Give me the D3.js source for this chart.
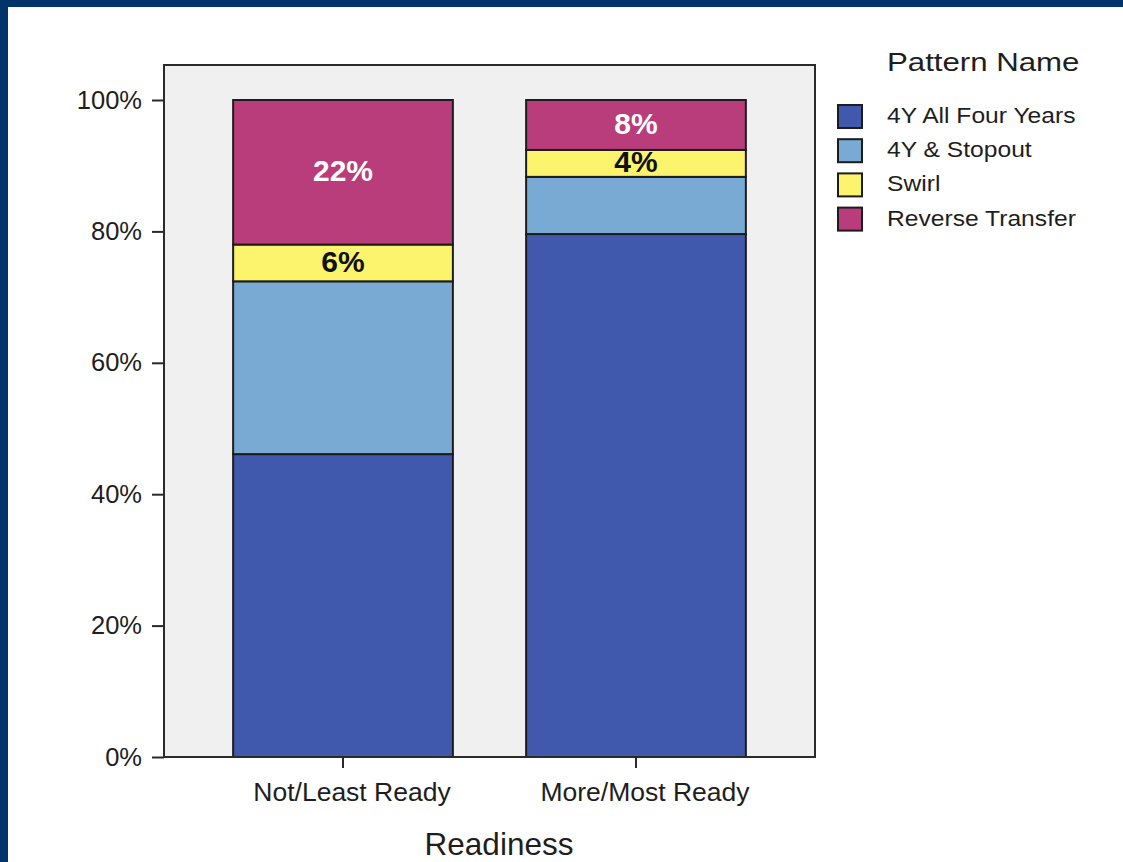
<!DOCTYPE html>
<html>
<head>
<meta charset="utf-8">
<script src="https://cdn.jsdelivr.net/npm/d3@7"></script>
<style>
  html, body { margin: 0; padding: 0; background: #ffffff; }
  svg { display: block; }
  text { font-family: "Liberation Sans", Arial, Helvetica, sans-serif; }
</style>
</head>
<body>
<svg id="chart" width="1123" height="862"></svg>
<script>
// Readiness groups on the x axis
const categories = ["Not/Least Ready", "More/Most Ready"];
// Enrollment patterns, stacked bottom to top
const seriesNames = ["4Y All Four Years", "4Y & Stopout", "Swirl", "Reverse Transfer"];
// Share of students in each pattern (percent) per readiness group
const allFourYears   = [46.1, 79.6];
const stopout        = [26.3, 8.7];
const swirl          = [5.6, 4.1];
const reverseTransfer = [22.0, 7.6];
// Patterns that carry a value label inside the bar
const labelledSeries = ["Swirl", "Reverse Transfer"];
const yTicks = [0, 0.2, 0.4, 0.6, 0.8, 1.0];
const xTitle = "Readiness";
const legendTitle = "Pattern Name";

const colors = {
  "4Y All Four Years": "#4159ad",
  "4Y & Stopout": "#79aad4",
  "Swirl": "#fbf46c",
  "Reverse Transfer": "#b93d7b"
};
const labelColors = { "Swirl": "#111111", "Reverse Transfer": "#ffffff" };

const seriesValues = [allFourYears, stopout, swirl, reverseTransfer];
const rows = categories.map((c, i) => {
  const r = { category: c };
  seriesNames.forEach((s, k) => { r[s] = seriesValues[k][i] / 100; });
  return r;
});
const stacked = d3.stack().keys(seriesNames)(rows);

const svg = d3.select("#chart");

// page frame: dark band along the top and left edges
svg.append("rect").attr("x", 0).attr("y", 0).attr("width", 1123).attr("height", 7).attr("fill", "#00346a");
svg.append("rect").attr("x", 0).attr("y", 0).attr("width", 8).attr("height", 862).attr("fill", "#00346a");

const plot = { left: 164, right: 815, top: 65, bottom: 757 };

const x = d3.scaleBand()
  .domain(categories)
  .range([plot.left, plot.right])
  .paddingInner(0.25)
  .paddingOuter(0.236);

const y = d3.scaleLinear()
  .domain([0, 1])
  .range([plot.bottom, 100]);

// plot background
svg.append("rect")
  .attr("x", plot.left).attr("y", plot.top)
  .attr("width", plot.right - plot.left).attr("height", plot.bottom - plot.top)
  .attr("fill", "#f0f0f0");

const defs = svg.append("defs");

// stacked segments
const layers = svg.append("g").selectAll("g")
  .data(stacked)
  .join("g")
  .attr("fill", d => colors[d.key]);

layers.selectAll("rect")
  .data(d => d.map(p => ({ key: d.key, p })))
  .join("rect")
  .attr("x", d => x(d.p.data.category))
  .attr("y", d => y(d.p[1]))
  .attr("width", x.bandwidth())
  .attr("height", d => y(d.p[0]) - y(d.p[1]))
  .attr("stroke", "#1c1c1c")
  .attr("stroke-width", 2);

// value labels, each kept inside its own segment
const fmt = d3.format(".0%");
const labelData = [];
stacked.filter(s => labelledSeries.includes(s.key)).forEach(s => {
  s.forEach((p, i) => labelData.push({ key: s.key, p, id: "seg-" + seriesNames.indexOf(s.key) + "-" + i }));
});

defs.selectAll("clipPath")
  .data(labelData)
  .join("clipPath")
  .attr("id", d => d.id)
  .append("rect")
  .attr("x", d => x(d.p.data.category))
  .attr("y", d => y(d.p[1]) + 1)
  .attr("width", x.bandwidth())
  .attr("height", d => y(d.p[0]) - y(d.p[1]) - 2);

svg.append("g").selectAll("text")
  .data(labelData)
  .join("text")
  .attr("clip-path", d => "url(#" + d.id + ")")
  .attr("x", d => x(d.p.data.category) + x.bandwidth() / 2)
  .attr("y", d => (y(d.p[0]) + y(d.p[1])) / 2)
  .attr("dy", "0.3em")
  .attr("text-anchor", "middle")
  .attr("font-size", 30)
  .attr("font-weight", "bold")
  .attr("fill", d => labelColors[d.key])
  .text(d => fmt(d.p[1] - d.p[0]));

// plot frame
svg.append("rect")
  .attr("x", plot.left).attr("y", plot.top)
  .attr("width", plot.right - plot.left).attr("height", plot.bottom - plot.top)
  .attr("fill", "none")
  .attr("stroke", "#2a2a2a")
  .attr("stroke-width", 2);

// y axis
const yAxis = svg.append("g")
  .attr("transform", `translate(${plot.left},0)`)
  .call(d3.axisLeft(y).tickValues(yTicks).tickFormat(fmt).tickSize(12).tickPadding(10));
yAxis.select(".domain").remove();
yAxis.selectAll(".tick line").attr("stroke", "#2a2a2a").attr("stroke-width", 2);
yAxis.selectAll(".tick text")
  .attr("font-size", 25.5)
  .attr("font-family", "'Liberation Sans', Arial, sans-serif")
  .attr("fill", "#1e1e1e");

// x axis
const xAxis = svg.append("g")
  .attr("transform", `translate(0,${plot.bottom})`)
  .call(d3.axisBottom(x).tickSize(11).tickPadding(14.5));
xAxis.select(".domain").remove();
xAxis.selectAll(".tick line").attr("stroke", "#2a2a2a").attr("stroke-width", 2);
xAxis.selectAll(".tick text")
  .attr("font-size", 26.5)
  .attr("dx", 9)
  .attr("font-family", "'Liberation Sans', Arial, sans-serif")
  .attr("fill", "#1e1e1e");

svg.append("text")
  .attr("x", 499).attr("y", 855)
  .attr("text-anchor", "middle")
  .attr("font-size", 31.5)
  .attr("fill", "#1e1e1e")
  .text(xTitle);

// legend
const legend = svg.append("g").attr("transform", "translate(838,0)");
legend.append("text")
  .attr("transform", "translate(49,71) scale(1.2,1)")
  .attr("font-size", 26)
  .attr("fill", "#1e1e1e")
  .text(legendTitle);

const items = legend.selectAll("g.item")
  .data(seriesNames)
  .join("g")
  .attr("class", "item")
  .attr("transform", (d, i) => `translate(0,${105 + i * 34.2})`);
items.append("rect")
  .attr("x", 0).attr("y", 0)
  .attr("width", 24).attr("height", 23)
  .attr("fill", d => colors[d])
  .attr("stroke", "#1c1c1c")
  .attr("stroke-width", 2);
items.append("text")
  .attr("transform", "translate(49,18) scale(1.12,1)")
  .attr("font-size", 22)
  .attr("fill", "#1e1e1e")
  .text(d => d);
</script>
</body>
</html>
